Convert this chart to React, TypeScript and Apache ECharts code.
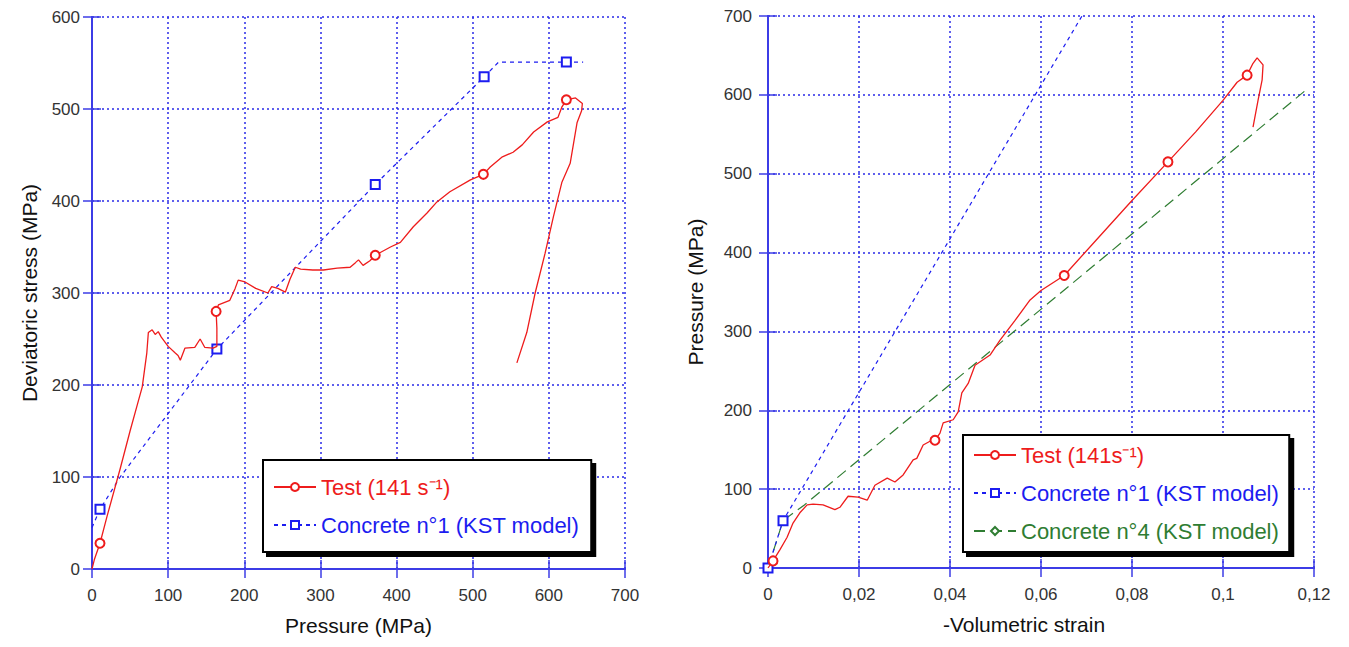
import React, { useEffect, useRef } from 'react';
import * as echarts from 'echarts';

// ---------- Data ----------
// Left chart: deviatoric stress vs pressure
const testLeftPoints: number[][] = [
  [0, 0], [3, 10], [8, 22], [10.5, 28], [20, 58], [37, 109], [50, 150], [60, 180], [66, 198],
  [72, 235], [74, 257], [79, 260], [83, 255], [87, 258], [91, 252], [100, 242], [109, 235],
  [113, 232], [116, 227], [122, 240], [135, 241], [142, 250], [148, 241], [159, 240], [164, 242],
  [164, 262], [163, 280], [166, 287], [181, 292], [188, 305], [192, 314], [201, 312], [215, 305],
  [231, 300], [236, 307], [244, 305], [254, 301], [260, 315], [267, 328], [274, 326], [290, 325],
  [304, 325], [322, 327], [339, 328], [346, 333], [350, 336], [356, 330], [365, 335], [372, 341],
  [392, 350], [405, 355], [422, 372], [440, 387], [453, 399], [470, 410], [497, 423], [514, 429],
  [523, 437], [539, 448], [553, 453], [565, 461], [580, 475], [598, 486], [612, 491], [617, 502],
  [623, 510], [635, 512], [644, 506], [643, 498], [637, 485], [628, 441], [617, 420], [606, 383],
  [595, 343], [582, 300], [571, 257], [558, 224],
];
const testLeftMarkers: number[] = [3, 26, 48, 56, 65];

const modelLeftPoints: number[][] = [
  [0, 45], [10.5, 65], [37, 100], [164, 239], [372, 418], [515, 535], [534, 551], [623, 551], [645, 551],
];
const modelLeftMarkers: number[] = [1, 3, 4, 5, 7];

// Right chart: pressure vs -volumetric strain
const testRightPoints: number[][] = [
  [0, 0], [0.0011, 9], [0.0026, 23], [0.0042, 39], [0.0055, 57], [0.007, 70], [0.0086, 80],
  [0.0099, 81], [0.0121, 80], [0.0147, 74], [0.0158, 77], [0.0176, 91], [0.0198, 90], [0.0218, 86],
  [0.0235, 105], [0.0262, 114], [0.0279, 109], [0.0297, 118], [0.0319, 137], [0.0327, 139],
  [0.0341, 156], [0.0363, 163], [0.0367, 162], [0.0378, 171], [0.0385, 184], [0.0407, 188],
  [0.0418, 198], [0.0426, 222], [0.044, 234], [0.0455, 257], [0.0488, 270], [0.051, 289],
  [0.0543, 314], [0.0576, 340], [0.06, 352], [0.0651, 371], [0.072, 415], [0.08, 466],
  [0.0879, 515], [0.094, 553], [0.1, 593], [0.1031, 616], [0.1053, 625], [0.1066, 640],
  [0.1075, 647], [0.1088, 638], [0.1086, 619], [0.1077, 593], [0.1066, 559],
];
const testRightMarkers: number[] = [1, 22, 35, 38, 42];

const model1RightPoints: number[][] = [[0, 0], [0.0033, 60], [0.069, 700]];
const model1RightMarkers: number[] = [0, 1];

const model4RightPoints: number[][] = [[0, 0], [0.0033, 60], [0.008, 80], [0.118, 605]];
const model4RightMarkers: number[] = [0, 1];

const NAME_TEST_L = 'Test (141 s⁻¹)';
const NAME_TEST_R = 'Test (141s⁻¹)';
const NAME_M1 = 'Concrete n°1 (KST model)';
const NAME_M4 = 'Concrete n°4 (KST model)';

// ---------- Styles ----------
const FONT = '"Liberation Sans", Arial, sans-serif';
const AXIS_BLUE = '#3c3ce6';
const GRID_BLUE = '#2a2ae8';
const RED = '#ee1c1c';
const BLUE = '#1c1cf0';
const GREEN = '#2f7d32';
const LABEL = '#333333';

function withMarkers(points: number[][], markers: number[]) {
  return points.map((p, i) => (markers.includes(i) ? { value: p } : { value: p, symbol: 'none' }));
}

function mainAxis(
  dim: 'x' | 'y',
  gridIndex: number,
  min: number,
  max: number,
  interval: number,
  name: string,
  nameGap: number,
  labelMargin: number,
  formatter?: (v: number) => string,
  namePadding?: number[],
) {
  return {
    type: 'value',
    gridIndex,
    position: dim === 'x' ? 'bottom' : 'left',
    min,
    max,
    interval,
    name,
    nameLocation: 'middle',
    nameGap,
    nameTextStyle: { fontFamily: FONT, fontSize: 21, color: '#111', padding: namePadding },
    axisLine: { show: true, lineStyle: { color: AXIS_BLUE, width: 2 } },
    axisTick: { show: true, inside: true, length: 9, lineStyle: { color: AXIS_BLUE, width: 1.5 } },
    axisLabel: {
      show: true,
      margin: labelMargin,
      fontFamily: FONT,
      fontSize: 17,
      color: LABEL,
      formatter: formatter,
    },
    splitLine: { show: true, lineStyle: { color: GRID_BLUE, width: 1.5, type: [2, 3] } },
  };
}

function mirrorAxis(dim: 'x' | 'y', gridIndex: number, min: number, max: number, interval: number) {
  return {
    type: 'value',
    gridIndex,
    position: dim === 'x' ? 'top' : 'right',
    min,
    max,
    interval,
    axisLine: { show: true, lineStyle: { color: AXIS_BLUE, width: 2 } },
    axisTick: { show: true, inside: true, length: 9, lineStyle: { color: AXIS_BLUE, width: 1.5 } },
    axisLabel: { show: false },
    splitLine: { show: false },
  };
}

const legendBase = {
  orient: 'vertical',
  backgroundColor: '#ffffff',
  borderColor: '#000000',
  borderWidth: 2,
  borderRadius: 0,
  shadowBlur: 1,
  shadowColor: '#000000',
  shadowOffsetX: 4,
  shadowOffsetY: 4,
  itemWidth: 42,
  itemHeight: 10,
  itemGap: 14,
  textStyle: { fontFamily: FONT, fontSize: 22, lineHeight: 24 },
  selectedMode: false,
};

export default function App() {
  const ref = useRef<HTMLDivElement>(null);

  useEffect(() => {
    if (!ref.current) return;
    const chart = echarts.init(ref.current, undefined, { renderer: 'svg' });

    const strainFmt = (v: number) => (v === 0 ? '0' : String(parseFloat(v.toFixed(2))).replace('.', ','));

    const option: any = {
      animation: false,
      backgroundColor: '#ffffff',
      grid: [
        { left: 92, top: 17, width: 533, height: 552, show: false },
        { left: 768, top: 16, width: 546, height: 552, show: false },
      ],
      xAxis: [
        mainAxis('x', 0, 0, 700, 100, 'Pressure (MPa)', 46, 18),
        mainAxis('x', 1, 0, 0.12, 0.02, '-Volumetric strain', 46, 18, strainFmt, [0, 34, 0, 0]),
        mirrorAxis('x', 0, 0, 700, 100),
        mirrorAxis('x', 1, 0, 0.12, 0.02),
      ],
      yAxis: [
        mainAxis('y', 0, 0, 600, 100, 'Deviatoric stress (MPa)', 52, 12),
        mainAxis('y', 1, 0, 700, 100, 'Pressure (MPa)', 62, 16),
        mirrorAxis('y', 0, 0, 600, 100),
        mirrorAxis('y', 1, 0, 700, 100),
      ],
      legend: [
        {
          ...legendBase,
          left: 263,
          top: 460,
          padding: [15, 12, 15, 10],
          data: [
            { name: NAME_TEST_L, textStyle: { color: RED } },
            { name: NAME_M1, textStyle: { color: BLUE } },
          ],
        },
        {
          ...legendBase,
          left: 963,
          top: 435,
          itemGap: 14,
          padding: [8, 10, 9, 10],
          data: [
            { name: NAME_TEST_R, textStyle: { color: RED } },
            { name: NAME_M1, textStyle: { color: BLUE } },
            { name: NAME_M4, textStyle: { color: GREEN } },
          ],
        },
      ],
      series: [
        {
          name: NAME_M1,
          type: 'line',
          xAxisIndex: 0,
          yAxisIndex: 0,
          data: withMarkers(modelLeftPoints, modelLeftMarkers),
          showSymbol: true,
          showAllSymbol: true,
          symbol: 'emptyRect',
          symbolSize: 9,
          itemStyle: { color: BLUE, borderWidth: 1.3 },
          lineStyle: { color: BLUE, width: 1.2, type: [4, 4] },
          z: 2,
        },
        {
          name: NAME_TEST_L,
          type: 'line',
          xAxisIndex: 0,
          yAxisIndex: 0,
          data: withMarkers(testLeftPoints, testLeftMarkers),
          showSymbol: true,
          showAllSymbol: true,
          symbol: 'emptyCircle',
          symbolSize: 9,
          itemStyle: { color: RED, borderWidth: 1.3 },
          lineStyle: { color: RED, width: 1.3 },
          z: 3,
        },
        {
          name: NAME_M4,
          type: 'line',
          xAxisIndex: 1,
          yAxisIndex: 1,
          data: withMarkers(model4RightPoints, model4RightMarkers),
          showSymbol: true,
          showAllSymbol: true,
          symbol: 'emptyDiamond',
          symbolSize: 7,
          itemStyle: { color: GREEN, borderWidth: 1.2 },
          lineStyle: { color: GREEN, width: 1.2, type: [11, 6] },
          z: 2,
        },
        {
          name: NAME_M1,
          type: 'line',
          xAxisIndex: 1,
          yAxisIndex: 1,
          data: withMarkers(model1RightPoints, model1RightMarkers),
          showSymbol: true,
          showAllSymbol: true,
          symbol: 'emptyRect',
          symbolSize: 9,
          itemStyle: { color: BLUE, borderWidth: 1.3 },
          lineStyle: { color: BLUE, width: 1.2, type: [4, 4] },
          z: 2,
        },
        {
          name: NAME_TEST_R,
          type: 'line',
          xAxisIndex: 1,
          yAxisIndex: 1,
          data: withMarkers(testRightPoints, testRightMarkers),
          showSymbol: true,
          showAllSymbol: true,
          symbol: 'emptyCircle',
          symbolSize: 9,
          itemStyle: { color: RED, borderWidth: 1.3 },
          lineStyle: { color: RED, width: 1.3 },
          z: 3,
        },
      ],
    };

    chart.setOption(option);
    return () => chart.dispose();
  }, []);

  return (
    <div
      ref={ref}
      style={{ position: 'fixed', left: 0, top: 0, width: 1349, height: 647, background: '#fff' }}
    />
  );
}
